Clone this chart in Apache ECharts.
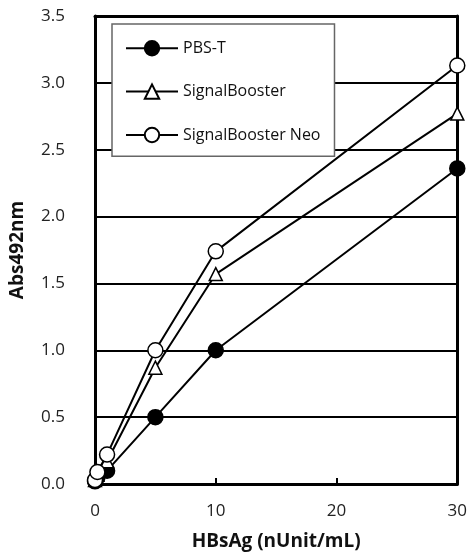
<!DOCTYPE html>
<html><head><meta charset="utf-8">
<script src="https://cdn.jsdelivr.net/npm/echarts@6/dist/echarts.min.js"></script>
<style>html,body{margin:0;padding:0;background:#fff}#c{width:470px;height:558px}</style>
</head><body><div id="c"></div>
<script>
const seriesNames = ['PBS-T', 'SignalBooster', 'SignalBooster Neo'];
const xTicks = [0, 10, 20, 30];
const yTicks = [0, 0.5, 1.0, 1.5, 2.0, 2.5, 3.0, 3.5];
const pbsT = [[0, 0.02], [0.2, 0.05], [1, 0.1], [5, 0.5], [10, 1.0], [30, 2.36]];
const signalBooster = [[0, 0.03], [0.2, 0.07], [1, 0.17], [5, 0.87], [10, 1.57], [30, 2.77]];
const signalBoosterNeo = [[0, 0.03], [0.2, 0.09], [1, 0.22], [5, 1.0], [10, 1.74], [30, 3.13]];

const font = '"Open Sans", "Noto Sans", sans-serif';
const chart = echarts.init(document.getElementById('c'));
const lineSeries = (name, data, symbol, fill, size) => ({
  name, type: 'line', data, symbol, symbolSize: size,
  lineStyle: { color: '#000', width: 2 },
  itemStyle: { color: fill, borderColor: '#000', borderWidth: 1.5 },
  z: 2
});
chart.setOption({
  animation: false,
  backgroundColor: '#fff',
  grid: { left: 95, right: 12, top: 16, bottom: 74 },
  legend: {
    orient: 'vertical', left: 112, top: 24,
    padding: [16, 14, 13, 13], itemGap: 27, itemWidth: 52, itemHeight: 18,
    backgroundColor: '#fff', borderColor: '#666', borderWidth: 1.5,
    textStyle: { fontFamily: font, fontSize: 16, color: '#111' },
    data: seriesNames, z: 10
  },
  xAxis: [{
    type: 'value', min: 0, max: 30, interval: 10,
    name: 'HBsAg (nUnit/mL)', nameLocation: 'middle', nameGap: 48,
    nameTextStyle: { fontFamily: font, fontSize: 19, fontWeight: 'bold', color: '#111' },
    axisLine: { lineStyle: { color: '#000', width: 3 } },
    axisTick: { show: true, inside: true, length: 6, lineStyle: { color: '#000', width: 2 } },
    axisLabel: { margin: 19, fontFamily: font, fontSize: 17, color: '#222', formatter: v => xTicks.includes(v) ? String(v) : '' },
    splitLine: { show: false }
  }, {
    type: 'value', position: 'top', min: 0, max: 30, interval: 10,
    axisLine: { show: true, onZero: false, lineStyle: { color: '#000', width: 3 } },
    axisTick: { show: false }, axisLabel: { show: false }, splitLine: { show: false }
  }],
  yAxis: [{
    type: 'value', min: 0, max: 3.5, interval: 0.5,
    name: 'Abs492nm', nameLocation: 'middle', nameGap: 68,
    nameTextStyle: { fontFamily: font, fontSize: 19, fontWeight: 'bold', color: '#111' },
    axisLine: { show: true, lineStyle: { color: '#000', width: 3 } },
    axisTick: { show: false },
    axisLabel: { margin: 30, fontFamily: font, fontSize: 17, color: '#222', formatter: v => v.toFixed(1) },
    splitLine: { show: true, lineStyle: { color: '#000', width: 2 } }
  }, {
    type: 'value', position: 'right', min: 0, max: 3.5, interval: 0.5,
    axisLine: { show: true, onZero: false, lineStyle: { color: '#000', width: 3 } },
    axisTick: { show: false }, axisLabel: { show: false }, splitLine: { show: false }
  }],
  series: [
    lineSeries('PBS-T', pbsT, 'circle', '#000', 15),
    lineSeries('SignalBooster', signalBooster, 'triangle', '#fff', 13),
    lineSeries('SignalBooster Neo', signalBoosterNeo, 'circle', '#fff', 15)
  ]
});
</script></body></html>
